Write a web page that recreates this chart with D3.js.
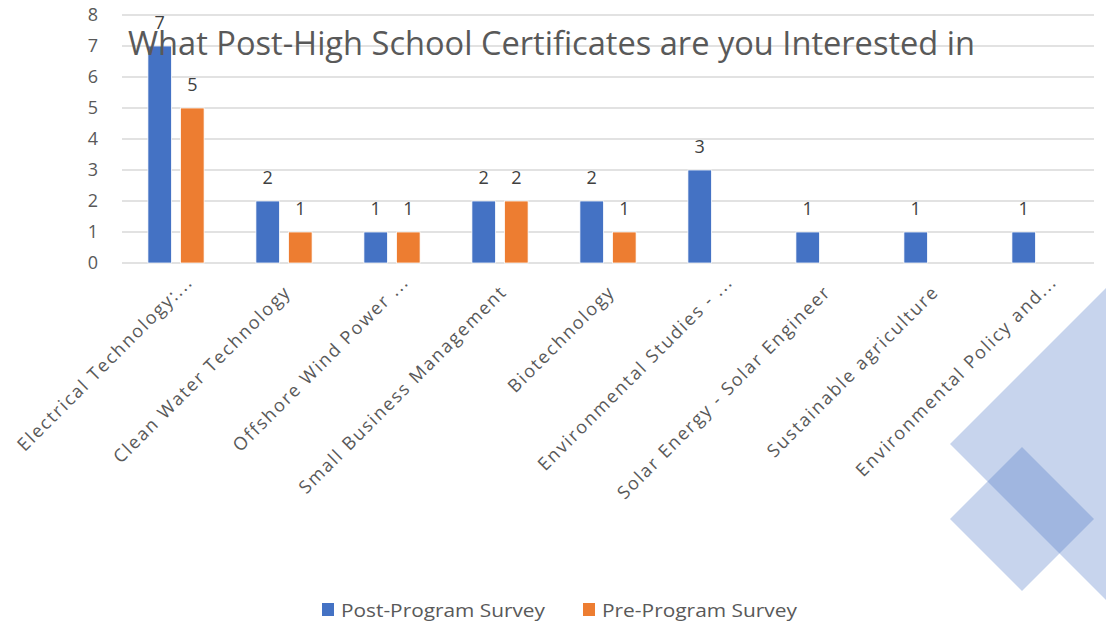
<!DOCTYPE html>
<meta charset="utf-8">
<style>
body { margin: 0; background: #fff; }
svg { display: block; font-family: "Open Sans", "Noto Sans", sans-serif; }
.grid line { stroke: #d9d9d9; stroke-width: 1.5px; }
.tick-label { fill: #595959; font-size: 18px; text-anchor: end; }
.cat-label { fill: #595959; font-size: 18px; letter-spacing: 1.8px; text-anchor: end; }
.val-label { fill: #404040; font-size: 18px; text-anchor: middle; }
.legend text { fill: #595959; font-size: 18px; }
</style>
<svg width="1106" height="624"></svg>
<script src="https://d3js.org/d3.v7.min.js"></script>
<script>
// chart data
var categories = [
  "Electrical Technology:...",
  "Clean Water Technology",
  "Offshore Wind Power ...",
  "Small Business Management",
  "Biotechnology",
  "Environmental Studies - ...",
  "Solar Energy - Solar Engineer",
  "Sustainable agriculture",
  "Environmental Policy and..."
];
var postProgram = [7, 2, 1, 2, 2, 3, 1, 1, 1];
var preProgram = [5, 1, 1, 2, 1, null, null, null, null];
var seriesNames = ["Post-Program Survey", "Pre-Program Survey"];
var seriesColors = ["#4472c4", "#ed7d31"];
var yTicks = [0, 1, 2, 3, 4, 5, 6, 7, 8];
var title = "What Post-High School Certificates are you Interested in";

var svg = d3.select("svg"),
    margin = {top: 15, right: 12, bottom: 361, left: 122},
    width = +svg.attr("width") - margin.left - margin.right,
    height = +svg.attr("height") - margin.top - margin.bottom;

// decorative diamonds (slide background)
var deco = svg.append("g");
[[1180, 444, 230], [1022, 519, 72]].forEach(function(d) {
  deco.append("path")
      .attr("d", "M" + (d[0] - d[2]) + "," + d[1] + "L" + d[0] + "," + (d[1] - d[2]) +
                 "L" + (d[0] + d[2]) + "," + d[1] + "L" + d[0] + "," + (d[1] + d[2]) + "Z")
      .style("fill", "#4472c4")
      .style("fill-opacity", 0.3);
});

var g = svg.append("g").attr("transform", "translate(" + margin.left + "," + margin.top + ")");

var x0 = d3.scaleBand().domain(categories).range([0, width]).paddingInner(0.48).paddingOuter(0.24);
var x1 = d3.scaleBand().domain([0, 1]).range([0, x0.bandwidth()]).paddingInner(0.28);
var y = d3.scaleLinear().domain([0, 8]).range([height, 0]);

// gridlines
g.append("g").attr("class", "grid")
  .selectAll("line").data(yTicks).enter().append("line")
    .attr("x1", 0).attr("x2", width)
    .attr("y1", function(d) { return y(d); })
    .attr("y2", function(d) { return y(d); });

// y tick labels
g.selectAll(".tick-label").data(yTicks).enter().append("text")
    .attr("class", "tick-label")
    .attr("x", -24)
    .attr("y", function(d) { return y(d); })
    .attr("dy", "0.36em")
    .text(function(d) { return d; });

var rows = categories.map(function(c, i) { return {cat: c, vals: [postProgram[i], preProgram[i]]}; });

var group = g.selectAll(".group").data(rows).enter().append("g")
    .attr("class", "group")
    .attr("transform", function(d) { return "translate(" + x0(d.cat) + ",0)"; });

var cells = group.selectAll("g").data(function(d) {
    return d.vals.map(function(v, k) { return {k: k, v: v}; }).filter(function(e) { return e.v != null; });
  }).enter();

cells.append("rect")
    .attr("x", function(d) { return x1(d.k); })
    .attr("y", function(d) { return y(d.v); })
    .attr("width", x1.bandwidth())
    .attr("height", function(d) { return y(0) - y(d.v); })
    .style("fill", function(d) { return seriesColors[d.k]; })
    .style("stroke", "#fff")
    .style("stroke-width", 0.75);

cells.append("text")
    .attr("class", "val-label")
    .attr("x", function(d) { return x1(d.k) + x1.bandwidth() / 2; })
    .attr("y", function(d) { return y(d.v) - 17; })
    .text(function(d) { return d.v; });

// title drawn over the plot like the original
svg.append("text")
    .attr("x", 128).attr("y", 55)
    .attr("textLength", 847).attr("lengthAdjust", "spacingAndGlyphs")
    .style("font-size", "33px").style("fill", "#595959")
    .text(title);

// category labels, rotated
g.selectAll(".cat-label").data(categories).enter().append("text")
    .attr("class", "cat-label")
    .attr("transform", function(d) {
      var cx = x0(d) + x0.bandwidth() / 2;
      return "translate(" + (cx + 8) + "," + (height + 30) + ") rotate(-45)";
    })
    .attr("dx", function(d) { return /\.\.\.$/.test(d) ? 14 : 0; })
    .text(function(d) { return d; });

// legend
var legend = svg.append("g").attr("class", "legend");
var legendX = [322, 583];
seriesNames.forEach(function(name, i) {
  legend.append("rect")
      .attr("x", legendX[i]).attr("y", 603).attr("width", 12).attr("height", 13)
      .style("fill", seriesColors[i]);
  legend.append("text")
      .attr("x", legendX[i] + 19).attr("y", 617)
      .attr("textLength", i === 0 ? 204 : 195).attr("lengthAdjust", "spacingAndGlyphs")
      .text(name);
});
</script>
